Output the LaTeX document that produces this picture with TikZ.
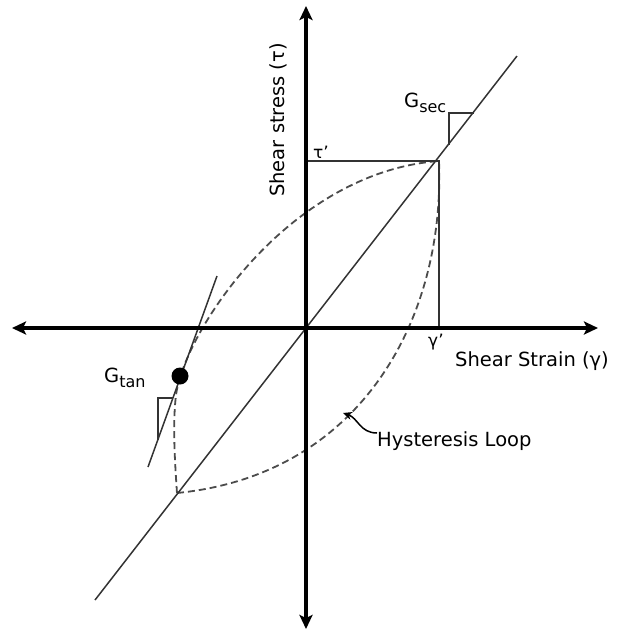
\documentclass[tikz,border=0pt]{standalone}
\usepackage{fontspec}
\setmainfont{DejaVu Sans}
\usetikzlibrary{arrows.meta}

\begin{document}
\begin{tikzpicture}[x=1pt,y=-1pt,line cap=butt,line join=miter,
                    every node/.style={font=\fontsize{19.5pt}{23pt}\selectfont,inner sep=0pt},
                    axis/.style={line width=3.6pt,{Stealth[length=14pt,width=13pt,inset=3pt]}-{Stealth[length=14pt,width=13pt,inset=3pt]}},
                    thinline/.style={line width=1.5pt,draw=black!80},
                    loopline/.style={line width=1.8pt,draw=black!70,dash pattern=on 7pt off 4pt}]
% ---- 坐标（px = pt，原点=位图左上角，y 向下） ----
\coordinate (O)  at (306,328);
\coordinate (XL) at (12,328);\coordinate (XR) at (598,328);
\coordinate (YB) at (306,629);\coordinate (YT) at (306,6);
\coordinate (SL) at (95,600);\coordinate (SU) at (517,56);     % 割线两端
\coordinate (P)  at (439,161);                                  % 峰点 (gamma', tau')
\coordinate (PT) at (306,161);\coordinate (PG) at (439,328);
\coordinate (TL) at (177,493);\coordinate (TJ) at (176,395);    % 回线左下尖点、切点附近
\coordinate (T1) at (148,467);\coordinate (T2) at (217,276);    % 切线两端
\coordinate (S1) at (449,113);\coordinate (S2) at (474,113);\coordinate (S3) at (449,145);
\coordinate (G1) at (158,398);\coordinate (G2) at (173,398);\coordinate (G3) at (158,440);
% ---- 滞回线（虚线）----
\draw[loopline] (TL) .. controls (174,450) and (173,420) .. (TJ)
                     .. controls (185,330) and (290,172) .. (P);   % 上支
\draw[loopline] (TL) .. controls (360,475) and (445,320) .. (P);   % 下支
% ---- 细实线：割线、tau'/gamma' 引线、切线、两个小三角 ----
\draw[thinline] (SL)--(SU);
\draw[thinline] (PT)--(P)--(PG);
\draw[thinline] (T1)--(T2);
\draw[thinline] (S3)--(S1)--(S2);
\draw[thinline] (G2)--(G1)--(G3);
% ---- 坐标轴 ----
\draw[axis] (XL)--(XR);
\draw[axis] (YB)--(YT);
% ---- 切点（实心圆）----
\fill (180,376) circle[radius=8.5pt];
% ---- 标签 ----
\node[rotate=90,anchor=base west] (ylab) at (284,197) {Shear stress (τ)};
\node[anchor=base west] (xlab) at (455,366) {Shear Strain (γ)};
\node[anchor=base west] (tau) at (313,158) {\fontsize{17pt}{20pt}\selectfont τ'};
\node[anchor=base west] (gam) at (428,346) {\fontsize{17pt}{20pt}\selectfont γ'};
\node[anchor=base west] (gsec) at (404,107) {G\raisebox{-5pt}{\fontsize{16pt}{18pt}\selectfont sec}};
\node[anchor=base west] (gtan) at (104,382) {G\raisebox{-5pt}{\fontsize{16pt}{18pt}\selectfont tan}};
\node[anchor=base west] (hys) at (377,446) {Hysteresis Loop};
\coordinate (H1) at (343,413);
\draw[line width=1.5pt,-{Stealth[length=9pt,width=8pt]}] (hys.west |- 0,433) .. controls (360,433) and (358,418) .. (H1);
% ---- 外框 ----
\pgfresetboundingbox
\path[use as bounding box] (0,0) rectangle (637,633);
\end{tikzpicture}
\end{document}
